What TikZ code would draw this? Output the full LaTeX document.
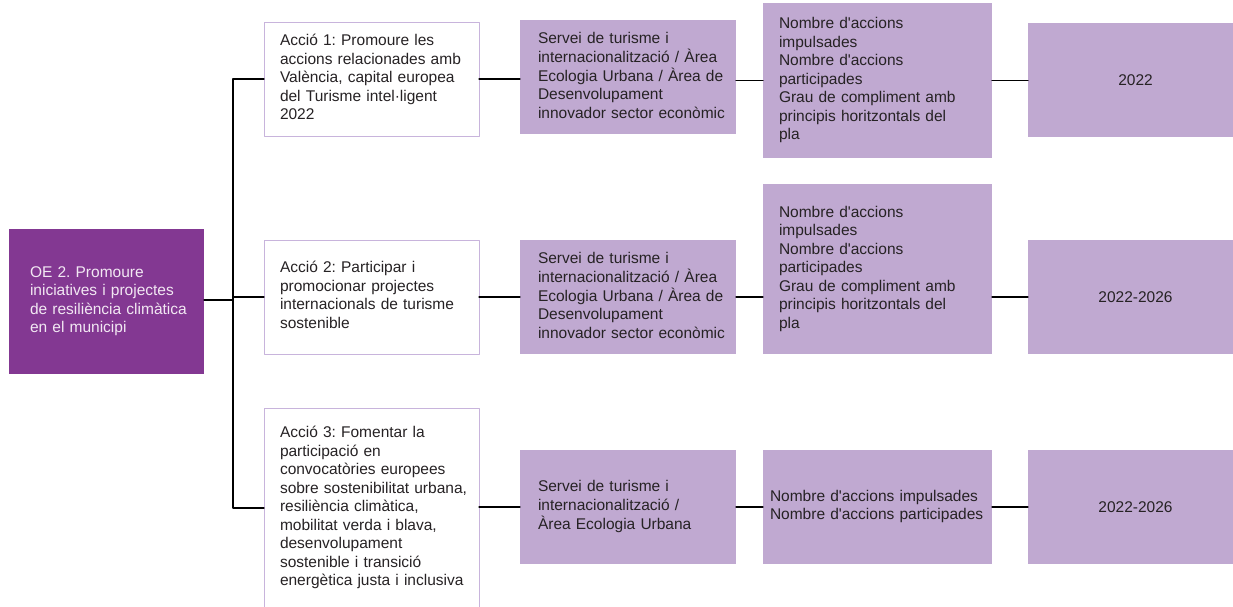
\documentclass[tikz,border=0pt]{standalone}
\usepackage{fontspec}
\setmainfont{Liberation Sans}
\usetikzlibrary{positioning}
\definecolor{oepurple}{RGB}{131,56,146}
\definecolor{oetext}{RGB}{242,232,243}
\definecolor{lilac}{RGB}{192,169,209}
\definecolor{lilacline}{RGB}{200,180,220}
\definecolor{txtgray}{RGB}{38,34,36}
\hfuzz=100pt
\frenchspacing
\newcommand{\apos}{\textquotesingle}
\newcommand{\lines}[1]{\begin{tabular}{@{}l@{}}#1\end{tabular}}

\begin{document}
\begin{tikzpicture}[x=1pt,y=-1pt,line cap=round,line join=round,
  every node/.style={font=\fontsize{15.5}{18.5}\selectfont,text=txtgray,outer sep=0pt,inner ysep=0pt,align=left},
  oebox/.style={fill=oepurple,text=oetext,text width=153pt,inner xsep=21pt,minimum height=145pt},
  accbox/.style={draw=lilacline,line width=0.9pt,fill=white,text width=183pt,inner xsep=16pt,minimum height=114pt},
  servbox/.style={fill=lilac,text width=180pt,inner xsep=18pt,minimum height=114pt},
  indbox/.style={fill=lilac,text width=197pt,inner xsep=16pt},
  yearbox/.style={fill=lilac,text width=215pt,inner xsep=0pt,align=center,minimum height=114pt},
  link/.style={line width=1.2pt,color=black}]
\useasboundingbox (0,0) rectangle (1233,606);

\node[oebox] (oe) at (106.5,301.5) {\lines{OE 2. Promoure\\iniciatives i projectes\\de resiliència climàtica\\en el municipi}};

\node[accbox] (a1) at (371.5,79) {\lines{Acció 1: Promoure les\\accions relacionades amb\\València, capital europea\\del Turisme intel·ligent\\2022}};
\node[accbox] (a2) at (371.5,297) {\lines{Acció 2: Participar i\\promocionar projectes\\internacionals de turisme\\sostenible}};
\node[accbox,minimum height=200pt] (a3) at (371.5,508) {\lines{Acció 3: Fomentar la\\participació en\\convocatòries europees\\sobre sostenibilitat urbana,\\resiliència climàtica,\\mobilitat verda i blava,\\desenvolupament\\sostenible i transició\\energètica justa i inclusiva}};

\node[servbox] (s1) at (628,77) {\lines{Servei de turisme i\\internacionalització / Àrea\\Ecologia Urbana / Àrea de\\Desenvolupament\\innovador sector econòmic}};
\node[servbox] (s2) at (628,297) {\lines{Servei de turisme i\\internacionalització / Àrea\\Ecologia Urbana / Àrea de\\Desenvolupament\\innovador sector econòmic}};
\node[servbox] (s3) at (628,507) {\lines{Servei de turisme i\\internacionalització /\\Àrea Ecologia Urbana}};

\node[indbox,minimum height=155pt] (n1) at (877.5,80.5) {\lines{Nombre d\apos accions\\impulsades\\Nombre d\apos accions\\participades\\Grau de compliment amb\\principis horitzontals del\\pla}};
\node[indbox,minimum height=170pt] (n2) at (877.5,269) {\lines{Nombre d\apos accions\\impulsades\\Nombre d\apos accions\\participades\\Grau de compliment amb\\principis horitzontals del\\pla}};
\node[indbox,text width=215pt,inner xsep=7pt,minimum height=114pt] (n3) at (877.5,507) {\lines{Nombre d\apos accions impulsades\\Nombre d\apos accions participades}};

\node[yearbox] (y1) at (1135.5,80) {2022};
\node[yearbox] (y2) at (1135.5,297) {2022-2026};
\node[yearbox] (y3) at (1135.5,507) {2022-2026};

\coordinate (fork) at (233,300);
\draw[link] (oe.east |- fork) -- (fork);
\draw[link] (a1.west) -| (fork) |- (a3.west);
\draw[link] (a2.west) -- (a2.west -| fork);

\draw[link] (a1.east) -- (s1.west |- a1.east);
\draw[link] (s1.east |- n1.west) -- (n1.west);
\draw[link] (n1.east) -- (y1.west |- n1.east);
\draw[link] (a2.east) -- (s2.west);
\draw[link] (s2.east) -- (n2.west |- s2.east);
\draw[link] (n2.east |- y2.west) -- (y2.west);
\draw[link] (a3.east |- s3.west) -- (s3.west);
\draw[link] (s3.east) -- (n3.west);
\draw[link] (n3.east) -- (y3.west);
\end{tikzpicture}
\end{document}
